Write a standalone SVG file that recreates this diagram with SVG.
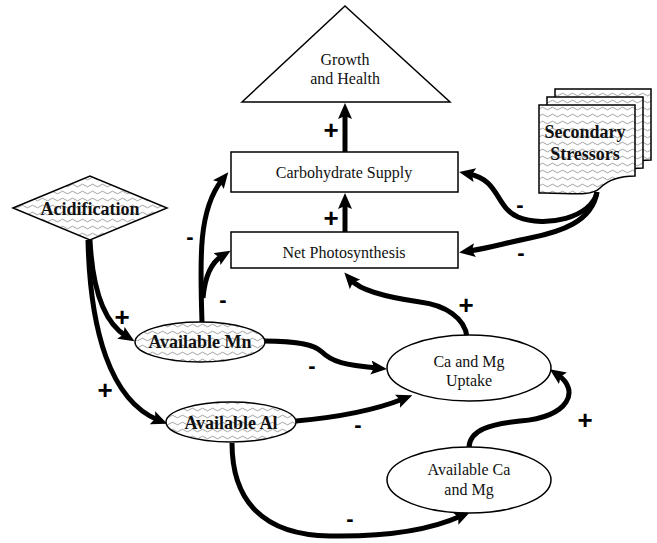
<svg xmlns="http://www.w3.org/2000/svg" width="657" height="543" viewBox="0 0 657 543">
<defs>
<pattern id="wave" width="10" height="7" patternUnits="userSpaceOnUse">
<rect width="10" height="7" fill="#fff"/>
<path d="M0,3.5 Q2.5,0.8 5,3.5 T10,3.5" fill="none" stroke="#8c8c8c" stroke-width="0.8"/>
</pattern>
<marker id="ah" markerUnits="userSpaceOnUse" markerWidth="18" markerHeight="16" refX="6" refY="7" orient="auto">
<path d="M0,0 L16,7 L0,14 L3,7 Z" fill="#000"/>
</marker>
<style>
.shape{stroke:#000;stroke-width:1.5}
.plain{fill:#fff}
.hatch{fill:url(#wave)}
.c{fill:none;stroke:#000;stroke-width:5;marker-end:url(#ah)}
</style>
</defs>
<rect width="657" height="543" fill="#fff"/>

<g id="connectors">
<path class="c" d="M345,152 L345,113"/>
<path class="c" d="M345,232 L345,203"/>
<path class="c" d="M597,192 C592,218 545,228 518,217 C495,207 500,180 469,174"/>
<path class="c" d="M597,192 C592,222 560,232 530,238 C505,243 490,248 469,251"/>
<path class="c" d="M90,240 C92,280 100,320 126,336"/>
<path class="c" d="M88,240 C90,330 110,400 158,420"/>
<path class="c" d="M202,322 C200,260 198,210 222,180"/>
<path class="c" d="M203,298 C205,275 212,262 222,256"/>
<path class="c" d="M264,341 C300,341 315,345 322,352 C332,362 345,365 377,368"/>
<path class="c" d="M467,337 C465,318 445,305 420,302 C385,297 360,290 351,280"/>
<path class="c" d="M296,421 C330,418 370,412 403,399"/>
<path class="c" d="M232,443 C232,500 262,535 330,536 C390,537 430,530 461,516"/>
<path class="c" d="M469,447 C470,430 490,424 520,421 C570,417 580,390 558,375"/>
</g>

<g font-family="Liberation Serif, Times New Roman, serif" font-size="16" fill="#111" text-anchor="middle">
<g id="growth">
<polygon class="shape plain" points="242,102 345,6 450,102"/>
<text x="345" y="65">Growth</text>
<text x="345" y="84">and Health</text>
</g>

<g id="carbohydrate">
<rect class="shape plain" x="231" y="152" width="227" height="40"/>
<text x="344" y="178">Carbohydrate Supply</text>
</g>

<g id="photosynthesis">
<rect class="shape plain" x="231" y="232" width="227" height="36"/>
<text x="344" y="258">Net Photosynthesis</text>
</g>

<g id="uptake">
<ellipse class="shape plain" cx="469" cy="368" rx="82" ry="33"/>
<text x="469" y="367">Ca and Mg</text>
<text x="469" y="386">Uptake</text>
</g>

<g id="availcamg">
<ellipse class="shape plain" cx="469" cy="480" rx="82" ry="33"/>
<text x="469" y="475">Available Ca</text>
<text x="469" y="495">and Mg</text>
</g>
</g>

<g font-family="Liberation Serif, Times New Roman, serif" font-size="18" font-weight="bold" fill="#111" text-anchor="middle">
<g id="acidification">
<polygon class="shape hatch" points="13,208 90,176 167,208 90,240"/>
<text x="90" y="215">Acidification</text>
</g>

<g id="stressors">
<path class="shape hatch" d="M555,89 H651 V160 C636,160 624,164 616,172 C606,182 581,176 555,177 Z"/>
<path class="shape hatch" d="M547,97 H643 V168 C628,168 616,172 608,180 C598,190 573,184 547,185 Z"/>
<path class="shape hatch" d="M539,105 H635 V176 C620,176 608,180 600,188 C590,198 565,192 539,193 Z"/>
<text x="585" y="138">Secondary</text>
<text x="585" y="160">Stressors</text>
</g>

<g id="mn">
<ellipse class="shape hatch" cx="200" cy="342" rx="65" ry="20"/>
<text x="200" y="348">Available Mn</text>
</g>

<g id="al">
<ellipse class="shape hatch" cx="231" cy="422" rx="65" ry="20"/>
<text x="231" y="429">Available Al</text>
</g>
</g>

<g id="labels" font-family="Liberation Sans, Arial, sans-serif" font-weight="bold" fill="#000" text-anchor="middle">
<g font-size="26">
<text x="331" y="139">+</text>
<text x="331" y="227">+</text>
<text x="122" y="326">+</text>
<text x="105" y="399">+</text>
<text x="466" y="314">+</text>
<text x="585" y="429">+</text>
</g>
<g font-size="22">
<text x="190" y="244">-</text>
<text x="223" y="307">-</text>
<text x="520" y="212">-</text>
<text x="521" y="260">-</text>
<text x="312" y="373">-</text>
<text x="358" y="432">-</text>
<text x="350" y="526">-</text>
</g>
</g>
</svg>
